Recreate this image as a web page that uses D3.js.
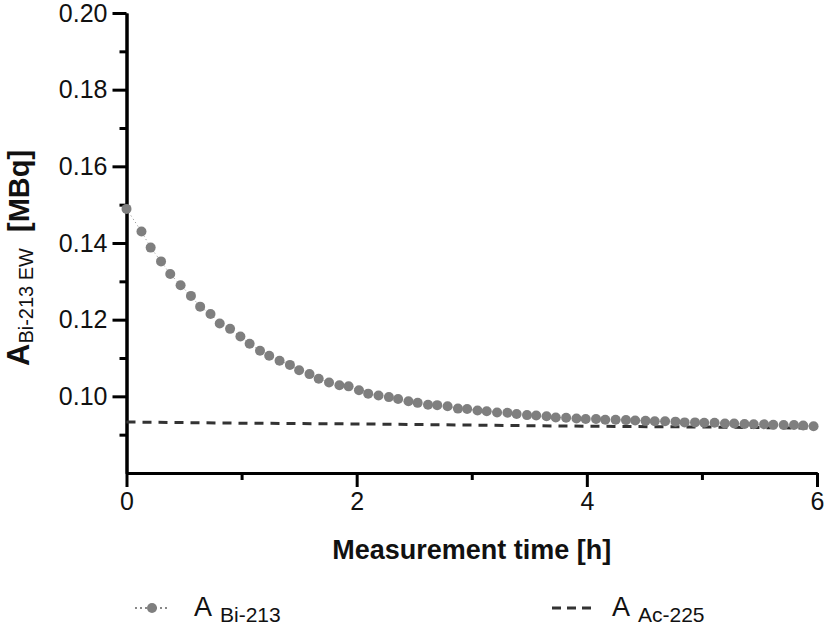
<!DOCTYPE html>
<html>
<head>
<meta charset="utf-8">
<script src="https://cdn.jsdelivr.net/npm/d3@7"></script>
<style>
  body { margin: 0; background: #fff; }
  text { font-family: "Liberation Sans", Arial, sans-serif; fill: #111; }
</style>
</head>
<body>
<div id="chart-area"></div>
<script>
// measurement times [h] and activities [MBq]
const biTime = [0, 0.13, 0.21, 0.30, 0.38, 0.47, 0.56, 0.64, 0.73, 0.81, 0.90,
  0.99, 1.07, 1.16, 1.24, 1.33, 1.42, 1.50, 1.59, 1.67, 1.76,
  1.85, 1.93, 2.02, 2.10, 2.19, 2.28, 2.36, 2.45, 2.53, 2.62,
  2.70, 2.79, 2.88, 2.96, 3.05, 3.13, 3.22, 3.31, 3.39, 3.48,
  3.56, 3.65, 3.73, 3.82, 3.91, 3.99, 4.08, 4.16, 4.25, 4.34,
  4.42, 4.51, 4.59, 4.68, 4.77, 4.85, 4.94, 5.02, 5.11, 5.20,
  5.28, 5.37, 5.45, 5.54, 5.62, 5.71, 5.80, 5.88, 5.97];
const biValues = [0.1489, 0.1430, 0.1388, 0.1352, 0.1319, 0.1290, 0.1262, 0.1234, 0.1215, 0.1190, 0.1176,
  0.1156, 0.1137, 0.1119, 0.1106, 0.1093, 0.1082, 0.1068, 0.1058, 0.1046, 0.1036,
  0.1029, 0.1026, 0.1016, 0.1007, 0.1002, 0.0998, 0.0993, 0.0987, 0.0983, 0.0978,
  0.0977, 0.0974, 0.0968, 0.0967, 0.0963, 0.0961, 0.0958, 0.0957, 0.0954, 0.0951,
  0.0950, 0.0948, 0.0945, 0.0944, 0.0942, 0.0941, 0.0941, 0.0939, 0.0939, 0.0938,
  0.0937, 0.0936, 0.0935, 0.0935, 0.0934, 0.0932, 0.0932, 0.0931, 0.0931, 0.0929,
  0.0929, 0.0928, 0.0927, 0.0927, 0.0926, 0.0925, 0.0925, 0.0924, 0.0922];
const acTime = [0, 1, 2, 3, 4, 5, 6];
const acValues = [0.0933, 0.0930, 0.0928, 0.0925, 0.0922, 0.0920, 0.0917];

const xMajor = [0, 2, 4, 6], xMinor = [1, 3, 5];
const yMajor = [0.10, 0.12, 0.14, 0.16, 0.18, 0.20];
const yMinor = [0.09, 0.11, 0.13, 0.15, 0.17, 0.19];

// set the dimensions and margins of the graph
const margin = {top: 13, right: 9, bottom: 152, left: 126.5},
    width = 826 - margin.left - margin.right,
    height = 625 - margin.top - margin.bottom;

const svg = d3.select("#chart-area")
  .append("svg")
    .attr("width", 826)
    .attr("height", 625)
  .append("g")
    .attr("transform", `translate(${margin.left}, ${margin.top})`);

const x = d3.scaleLinear().domain([0, 6]).range([0, width]);
const y = d3.scaleLinear().domain([0.08, 0.20]).range([height, 0]);

function styleAxis(g) {
  g.select(".domain").attr("stroke", "#000").attr("stroke-width", 3);
  g.selectAll(".tick line").attr("stroke", "#000").attr("stroke-width", 3);
  g.selectAll("text").style("font-size", "25px").attr("fill", "#111");
}

// X axis
svg.append("g")
  .attr("transform", `translate(0, ${height})`)
  .call(d3.axisBottom(x).tickValues(xMinor).tickSize(7).tickSizeOuter(0).tickFormat(""))
  .call(styleAxis);
svg.append("g")
  .attr("transform", `translate(0, ${height})`)
  .call(d3.axisBottom(x).tickValues(xMajor).tickSize(14).tickSizeOuter(0).tickPadding(5).tickFormat(d3.format("d")))
  .call(styleAxis);

// Y axis
svg.append("g")
  .call(d3.axisLeft(y).tickValues(yMinor).tickSize(7).tickSizeOuter(0).tickFormat(""))
  .call(styleAxis);
svg.append("g")
  .call(d3.axisLeft(y).tickValues(yMajor).tickSize(14).tickSizeOuter(0).tickPadding(5).tickFormat(d3.format(".2f")))
  .call(styleAxis);

// Ac-225 dashed line
svg.append("path")
  .datum(acTime.map((t, i) => [t, acValues[i]]))
  .attr("fill", "none")
  .attr("stroke", "#333")
  .attr("stroke-width", 3)
  .attr("stroke-dasharray", "9,7")
  .attr("d", d3.line().x(d => x(d[0])).y(d => y(d[1])));

// Bi-213 dotted line + markers
const biData = biTime.map((t, i) => [t, biValues[i]]);
svg.append("path")
  .datum(biData)
  .attr("fill", "none")
  .attr("stroke", "#888")
  .attr("stroke-width", 1)
  .attr("stroke-dasharray", "1,3")
  .attr("d", d3.line().x(d => x(d[0])).y(d => y(d[1])));
svg.selectAll("circle.bi")
  .data(biData)
  .enter()
  .append("circle")
    .attr("class", "bi")
    .attr("cx", d => x(d[0]))
    .attr("cy", d => y(d[1]))
    .attr("r", 5)
    .attr("fill", "#7f7f7f");

// axis titles
svg.append("text")
  .attr("x", width / 2)
  .attr("y", height + 86)
  .attr("text-anchor", "middle")
  .style("font-size", "27px")
  .style("font-weight", "bold")
  .text("Measurement time [h]");

const yTitle = svg.append("text")
  .attr("transform", `translate(${29 - margin.left}, ${366 - margin.top}) rotate(-90)`)
  .attr("text-anchor", "start");
yTitle.append("tspan").style("font-size", "31px").style("font-weight", "bold").text("A");
yTitle.append("tspan").style("font-size", "20px").attr("dy", 4).text("Bi-213 EW");
yTitle.append("tspan").style("font-size", "29px").style("font-weight", "bold").attr("dy", -4).attr("dx", 16).text("[MBq]");

// legend
const legend = svg.append("g").attr("transform", `translate(${-margin.left}, ${-margin.top})`);
legend.append("line")
  .attr("x1", 135).attr("x2", 168).attr("y1", 608).attr("y2", 608)
  .attr("stroke", "#888").attr("stroke-width", 2).attr("stroke-dasharray", "2,3");
legend.append("circle").attr("cx", 152).attr("cy", 608).attr("r", 5).attr("fill", "#7f7f7f");
const lt1 = legend.append("text").attr("x", 194).attr("y", 616);
lt1.append("tspan").style("font-size", "27px").text("A");
lt1.append("tspan").style("font-size", "21px").attr("dx", 8).attr("dy", 6).text("Bi-213");

legend.append("line")
  .attr("x1", 552).attr("x2", 592).attr("y1", 608).attr("y2", 608)
  .attr("stroke", "#333").attr("stroke-width", 3).attr("stroke-dasharray", "9,6");
const lt2 = legend.append("text").attr("x", 612).attr("y", 616);
lt2.append("tspan").style("font-size", "27px").text("A");
lt2.append("tspan").style("font-size", "21px").attr("dx", 8).attr("dy", 6).text("Ac-225");
</script>
</body>
</html>
